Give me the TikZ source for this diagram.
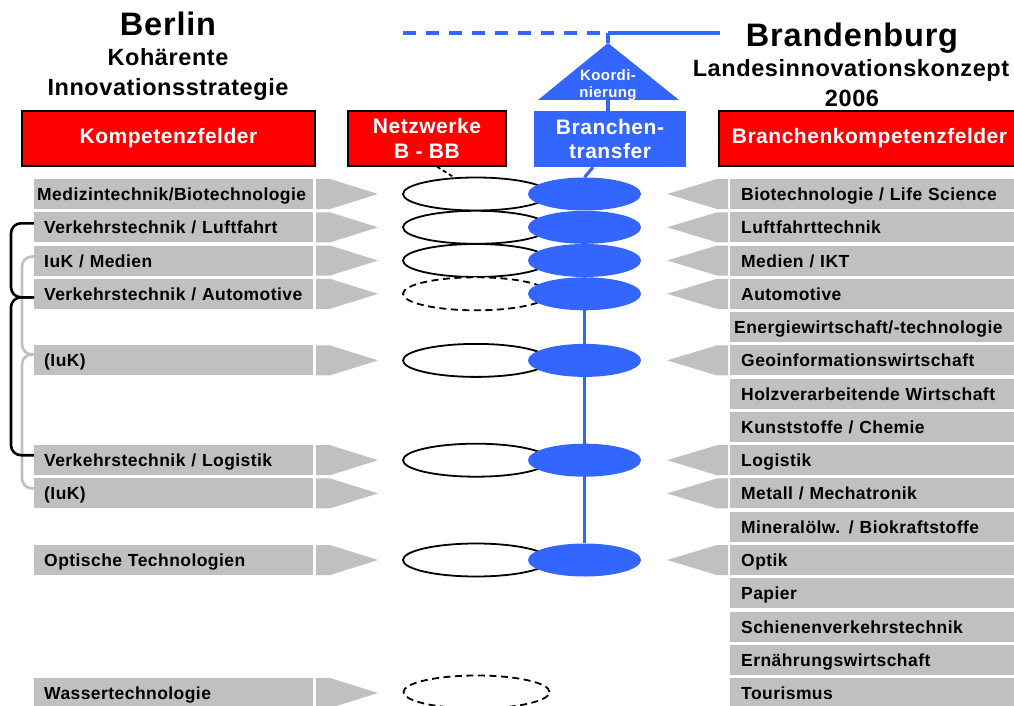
\documentclass[tikz,border=0pt]{standalone}
\usepackage{fontspec}
\setmainfont{Liberation Sans}[LetterSpace=2.5]
\usetikzlibrary{shapes.geometric}
\pgfdeclarelayer{bg}
\pgfsetlayers{bg,main}
\definecolor{kred}{RGB}{255,0,0}
\definecolor{kblue}{RGB}{51,102,255}
\definecolor{kgray}{RGB}{192,192,192}
\begin{document}
\begin{tikzpicture}[x=1pt,y=-1pt,font=\bfseries,
 lbox/.style={fill=kgray, anchor=west, text width=259pt, inner xsep=10pt, inner ysep=0pt, minimum height=30pt, align=left, text height=13pt, text depth=0pt, font=\fontsize{17.5}{19}\selectfont\bfseries},
 rbox/.style={lbox, text width=265pt, inner xsep=11pt},
 hdr/.style={fill=kred, draw=black, line width=1.2pt, text=white, align=center, inner sep=0pt, minimum height=55pt, font=\fontsize{21}{25}\selectfont\bfseries},
 wl/.style={ellipse, draw=black, line width=1.8pt, fill=white, minimum width=146pt, minimum height=33pt, inner sep=0pt},
 wd/.style={wl, dash pattern=on 7pt off 4.5pt},
 bl/.style={ellipse, fill=kblue, minimum width=113pt, minimum height=33pt, inner sep=0pt},
 bline/.style={draw=kblue, line width=3.2pt},
 bbr/.style={draw=black, line width=2.6pt, rounded corners=10pt},
 gbr/.style={draw=kgray, line width=2.6pt, rounded corners=10pt},
 ttl/.style={anchor=base, inner sep=0pt}
]
\useasboundingbox (0,0) rectangle (1014,706);

% titles
\node[ttl, font=\fontsize{32.5}{32}\selectfont\bfseries] (tB) at (168,36) {Berlin};
\node[ttl, font=\fontsize{23.5}{23}\selectfont\bfseries] (tK) at (168,66) {Kohärente};
\node[ttl, font=\fontsize{23.5}{23}\selectfont\bfseries] (tI) at (168,96) {Innovationsstrategie};
\node[ttl, font=\fontsize{32.5}{32}\selectfont\bfseries] (tBB) at (852,47) {Brandenburg};
\node[ttl, font=\fontsize{23.5}{23}\selectfont\bfseries] (tL) at (851,77) {Landesinnovationskonzept};
\node[ttl, font=\fontsize{23.5}{23}\selectfont\bfseries] (tY) at (852,107) {2006};

% headers
\node[hdr, minimum width=293pt] (kf) at (168.5,138.5) {Kompetenzfelder};
\node[hdr, minimum width=158pt] (nw) at (427,138.5) {Netzwerke\\B - BB};
\node[hdr, minimum width=301pt] (bkf) at (869.5,138.5) {Branchenkompetenzfelder};
\node[fill=kblue, text=white, align=center, inner sep=0pt, minimum width=152pt, minimum height=56pt, font=\fontsize{21}{24}\selectfont\bfseries] (bt) at (610,139) {Branchen-\\transfer};

% coordination triangle and top line
\fill[kblue] (608,43) -- (679,100) -- (538,100) -- cycle;
\node[text=white, align=center, inner sep=0pt, font=\fontsize{15}{17}\selectfont\bfseries] (ko) at (608,85) {Koordi-\\nierung};
\coordinate (j) at (608,33);
\coordinate (apex) at (608,43);
\coordinate (tb) at (608,100);
\coordinate (dl) at (403,33);
\coordinate (dr) at (720,33);
\draw[draw=kblue, line width=4.5pt, dash pattern=on 13pt off 10pt] (dl) -- (j);
\draw[bline] (j) -- (dr);
\draw[bline] (j) -- (apex);
\draw[bline] (tb) -- (tb |- bt.north);

% left rows
\node[lbox, inner xsep=3pt, text width=273pt] (l1) at (34,194) {Medizintechnik/Biotechnologie};
\node[lbox] (l2) at (34,227.3) {Verkehrstechnik / Luftfahrt};
\node[lbox] (l3) at (34,260.5) {IuK / Medien};
\node[lbox] (l4) at (34,293.8) {Verkehrstechnik / Automotive};
\node[lbox] (l6) at (34,360.4) {(IuK)};
\node[lbox] (l9) at (34,460.2) {Verkehrstechnik / Logistik};
\node[lbox] (l10) at (34,493.4) {(IuK)};
\node[lbox] (l12) at (34,560) {Optische Technologien};
\node[lbox] (l16) at (34,693) {Wassertechnologie};
\foreach \yy in {194,227.3,260.5,293.8,360.4,460.2,493.4,560,693}
  \fill[kgray] (316,\yy-15) -- (330,\yy-15) -- (378,\yy) -- (330,\yy+15) -- (316,\yy+15) -- cycle;

% right rows
\node[rbox] (r1) at (730,194) {Biotechnologie / Life Science};
\node[rbox] (r2) at (730,227.3) {Luftfahrttechnik};
\node[rbox] (r3) at (730,260.5) {Medien / IKT};
\node[rbox] (r4) at (730,293.8) {Automotive};
\node[rbox, inner xsep=4pt, text width=279pt] (r5) at (730,327.1) {Energiewirtschaft/-technologie};
\node[rbox] (r6) at (730,360.4) {Geoinformationswirtschaft};
\node[rbox] (r7) at (730,393.6) {Holzverarbeitende Wirtschaft};
\node[rbox] (r8) at (730,426.9) {Kunststoffe / Chemie};
\node[rbox] (r9) at (730,460.2) {Logistik};
\node[rbox] (r10) at (730,493.4) {Metall / Mechatronik};
\node[rbox] (r11) at (730,526.7) {Mineralölw. / Biokraftstoffe};
\node[rbox] (r12) at (730,560) {Optik};
\node[rbox] (r13) at (730,593.2) {Papier};
\node[rbox] (r14) at (730,626.5) {Schienenverkehrstechnik};
\node[rbox] (r15) at (730,659.8) {Ernährungswirtschaft};
\node[rbox] (r16) at (730,693) {Tourismus};
\foreach \yy in {194,227.3,260.5,293.8,360.4,460.2,493.4,560}
  \fill[kgray] (728,\yy-15) -- (717,\yy-15) -- (667,\yy) -- (717,\yy+15) -- (728,\yy+15) -- cycle;

% network ellipses
\node[wl] (w1) at (476,194) {};
\node[wl] (w2) at (476,227.3) {};
\node[wl] (w3) at (476,260.5) {};
\node[wd] (w4) at (476,293.8) {};
\node[wl] (w6) at (476,360.4) {};
\node[wl] (w9) at (476,460.2) {};
\node[wl] (w12) at (476,560) {};
\node[wd] (w16) at (476.5,692) {};
\draw[black, line width=1.8pt, dash pattern=on 4pt off 3pt] ([xshift=10pt]nw.south) -- (w1.143);

% transfer ellipses
\node[bl] (b1) at (584.5,194) {};
\node[bl] (b2) at (584.5,227.3) {};
\node[bl] (b3) at (584.5,260.5) {};
\node[bl] (b4) at (584.5,293.8) {};
\node[bl] (b6) at (584.5,360.4) {};
\node[bl] (b9) at (584.5,460.2) {};
\node[bl] (b12) at (584.5,560) {};
\begin{pgfonlayer}{bg}
\draw[bline] (b1) -- (b12);
\draw[draw=kblue, line width=3pt] ([xshift=-17pt]bt.south) -- (b1.north);
\end{pgfonlayer}

% brackets
\coordinate (bx) at (11,0);
\coordinate (gx) at (22,0);
\coordinate (ba) at ([yshift=4pt]l2.west);
\coordinate (bm) at ([yshift=-3.5pt]l4.west);
\coordinate (bb) at ([yshift=5pt]l9.west);
\coordinate (ga) at ([yshift=4pt]l3.west);
\coordinate (gm) at ([yshift=6pt]l6.west);
\coordinate (gb) at ([yshift=5pt]l10.west);
\draw[gbr] (ga) -- (gx |- ga) -- (gx |- gm) -- (gm);
\draw[gbr] (gm) -- (gx |- gm) -- (gx |- gb) -- (gb);
\draw[bbr] (ba) -- (bx |- ba) -- (bx |- bm) -- (bm);
\draw[bbr] (bm) -- (bx |- bm) -- (bx |- bb) -- (bb);
\end{tikzpicture}
\end{document}
